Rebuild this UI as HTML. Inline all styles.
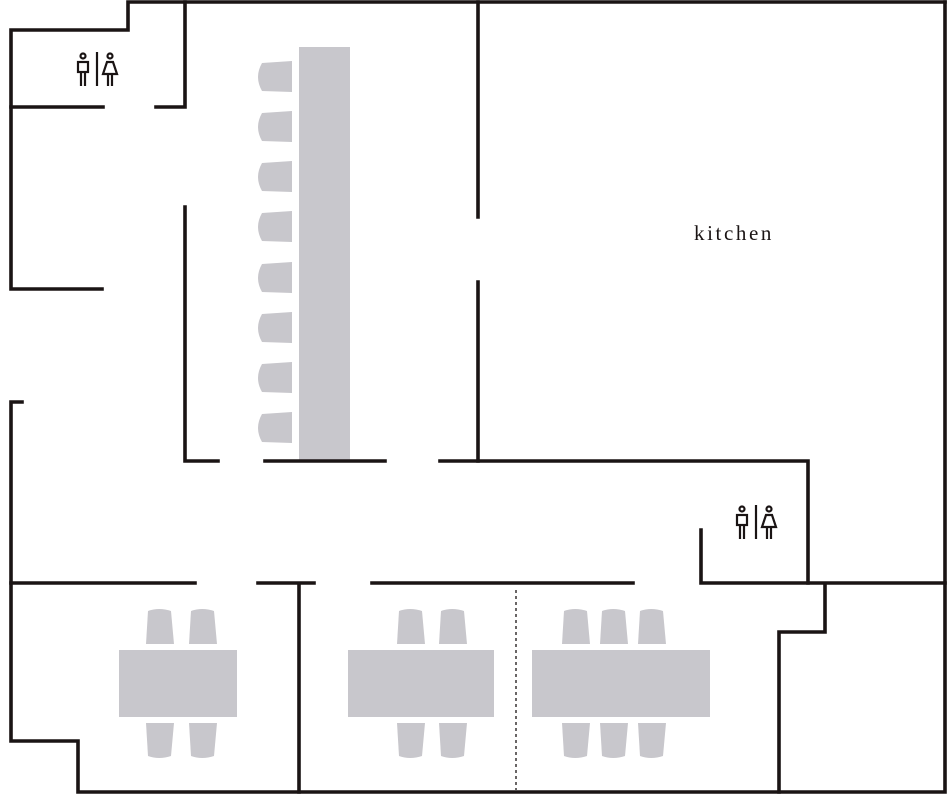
<!DOCTYPE html>
<html><head><meta charset="utf-8"><style>html,body{margin:0;padding:0;background:#fff}svg{display:block}</style></head>
<body>
<svg width="948" height="796" viewBox="0 0 948 796" xmlns="http://www.w3.org/2000/svg">
<defs>
<path id="cl" d="M35,0 L5,2 Q-3,16 5,30 L35,31 Z" fill="#c8c7cc"/>
<path id="cu" d="M2,36 L4,3 Q15,-1 27,3 L30,36 Z" fill="#c8c7cc"/>
<path id="cd" d="M2,0 L4,33 Q15,37 27,33 L30,0 Z" fill="#c8c7cc"/>
<g id="wc" fill="none" stroke="#1a1414" stroke-width="2.2">
<circle cx="6" cy="4" r="2.5"/><rect x="1" y="10" width="10" height="10"/><path d="M4,20V34M8,20V34"/>
<path d="M20,0V34" />
<circle cx="33" cy="4" r="2.5"/><path d="M30,10H36L40,22H26Z"/><path d="M31,22V34M35,22V34"/>
</g>
</defs>
<g fill="#c8c7cc">
<rect x="299" y="47" width="51" height="414"/>
<rect x="119" y="650" width="118" height="67"/>
<rect x="348" y="650" width="146" height="67"/>
<rect x="532" y="650" width="178" height="67"/>
</g>
<use href="#cl" x="257" y="61"/><use href="#cl" x="257" y="111"/><use href="#cl" x="257" y="161"/><use href="#cl" x="257" y="211"/>
<use href="#cl" x="257" y="262"/><use href="#cl" x="257" y="312"/><use href="#cl" x="257" y="362"/><use href="#cl" x="257" y="412"/>
<use href="#cu" x="144" y="608"/><use href="#cu" x="187" y="608"/><use href="#cd" x="144" y="723"/><use href="#cd" x="187" y="723"/>
<use href="#cu" x="395" y="608"/><use href="#cu" x="437" y="608"/><use href="#cd" x="395" y="723"/><use href="#cd" x="437" y="723"/>
<use href="#cu" x="560" y="608"/><use href="#cu" x="598" y="608"/><use href="#cu" x="636" y="608"/>
<use href="#cd" x="560" y="723"/><use href="#cd" x="598" y="723"/><use href="#cd" x="636" y="723"/>
<g fill="none" stroke="#1a1414" stroke-width="3.6" stroke-linecap="square">
<path d="M945,2H128V30H11V289H102"/>
<path d="M22,402H11V741H78V792H945V2"/>
<path d="M11,107H103M156,107H185V2"/>
<path d="M185,207V461H218M265,461H385M440,461H808V583"/>
<path d="M478,2V217M478,282V461"/>
<path d="M701,530V583H945M825,583V632H779V792"/>
<path d="M11,583H195M258,583H314M372,583H633M299,583V792"/>
</g>
<path d="M516,590V790" stroke="#1a1414" stroke-width="1.3" stroke-dasharray="3,3"/>
<use href="#wc" x="77" y="52"/>
<use href="#wc" x="736" y="505"/>
<text x="734" y="240" text-anchor="middle" font-family="'Liberation Serif',serif" font-size="21" letter-spacing="2.6" fill="#1a1414">kitchen</text>
</svg>
</body></html>
